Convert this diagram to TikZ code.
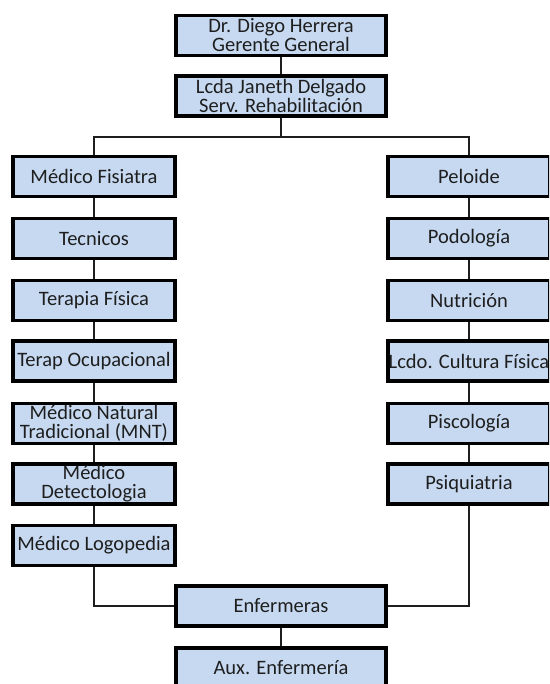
\documentclass[tikz,border=0pt]{standalone}
\usepackage{fontspec}
\setmainfont{Carlito}
\usetikzlibrary{backgrounds}
\definecolor{boxfill}{RGB}{198,217,241}
\definecolor{ink}{RGB}{30,30,30}
\tikzset{
  unit/.style={draw=black, line width=3.2pt, fill=boxfill, text=ink,
    inner sep=0pt, align=center,
    font=\fontsize{20.5}{19}\selectfont},
  topunit/.style={unit, minimum width=210pt, minimum height=40pt},
  colunit/.style={unit, minimum width=162pt, minimum height=40pt},
  link/.style={draw=ink, line width=1.8pt}
}
\begin{document}
\begin{tikzpicture}[x=1pt,y=-1pt]
\clip (0,0) rectangle (549,684);

% management
\node[topunit] (ger) at (281,35.5) {Dr. Diego Herrera\\Gerente General};
\node[topunit] (reh) at (281,96) {Lcda Janeth Delgado\\Serv. Rehabilitación};

% left column
\node[colunit] (fis) at (94,176.5) {Médico Fisiatra};
\node[colunit] (tec) at (94,238.5) {Tecnicos};
\node[colunit] (ter) at (94,300.5) {Terapia Física};
\node[colunit] (ocu) at (94,361) {Terap Ocupacional};
\node[colunit] (mnt) at (94,423.5) {Médico Natural\\Tradicional (MNT)};
\node[colunit] (def) at (94,484) {Médico\\Detectologia};
\node[colunit] (log) at (94,545.5) {Médico Logopedia};

% right column
\node[colunit] (pel) at (469,176.5) {Peloide};
\node[colunit] (pod) at (469,238.5) {Podología};
\node[colunit] (nut) at (469,300.5) {Nutrición};
\node[colunit] (cul) at (469,361) {Lcdo. Cultura Física};
\node[colunit] (psc) at (469,423.5) {Piscología};
\node[colunit] (psq) at (469,484) {Psiquiatria};

% nursing
\node[topunit] (enf) at (281,606) {Enfermeras};
\node[topunit] (aux) at (281,668) {Aux. Enfermería};

\coordinate (bus) at (281,137);

\begin{scope}[on background layer]
  \fill[white] (0,0) rectangle (549,684);
  \draw[link] (ger) -- (reh);
  \draw[link] (reh.south) -- (bus);
  \draw[link] (bus) -| (fis.north);
  \draw[link] (bus) -| (pel.north);
  \draw[link] (fis) -- (tec) -- (ter) -- (ocu) -- (mnt) -- (def) -- (log);
  \draw[link] (pel) -- (pod) -- (nut) -- (cul) -- (psc) -- (psq);
  \draw[link] (log.south) |- (enf.west);
  \draw[link] (psq.south) |- (enf.east);
  \draw[link] (enf) -- (aux);
\end{scope}
\end{tikzpicture}
\end{document}
